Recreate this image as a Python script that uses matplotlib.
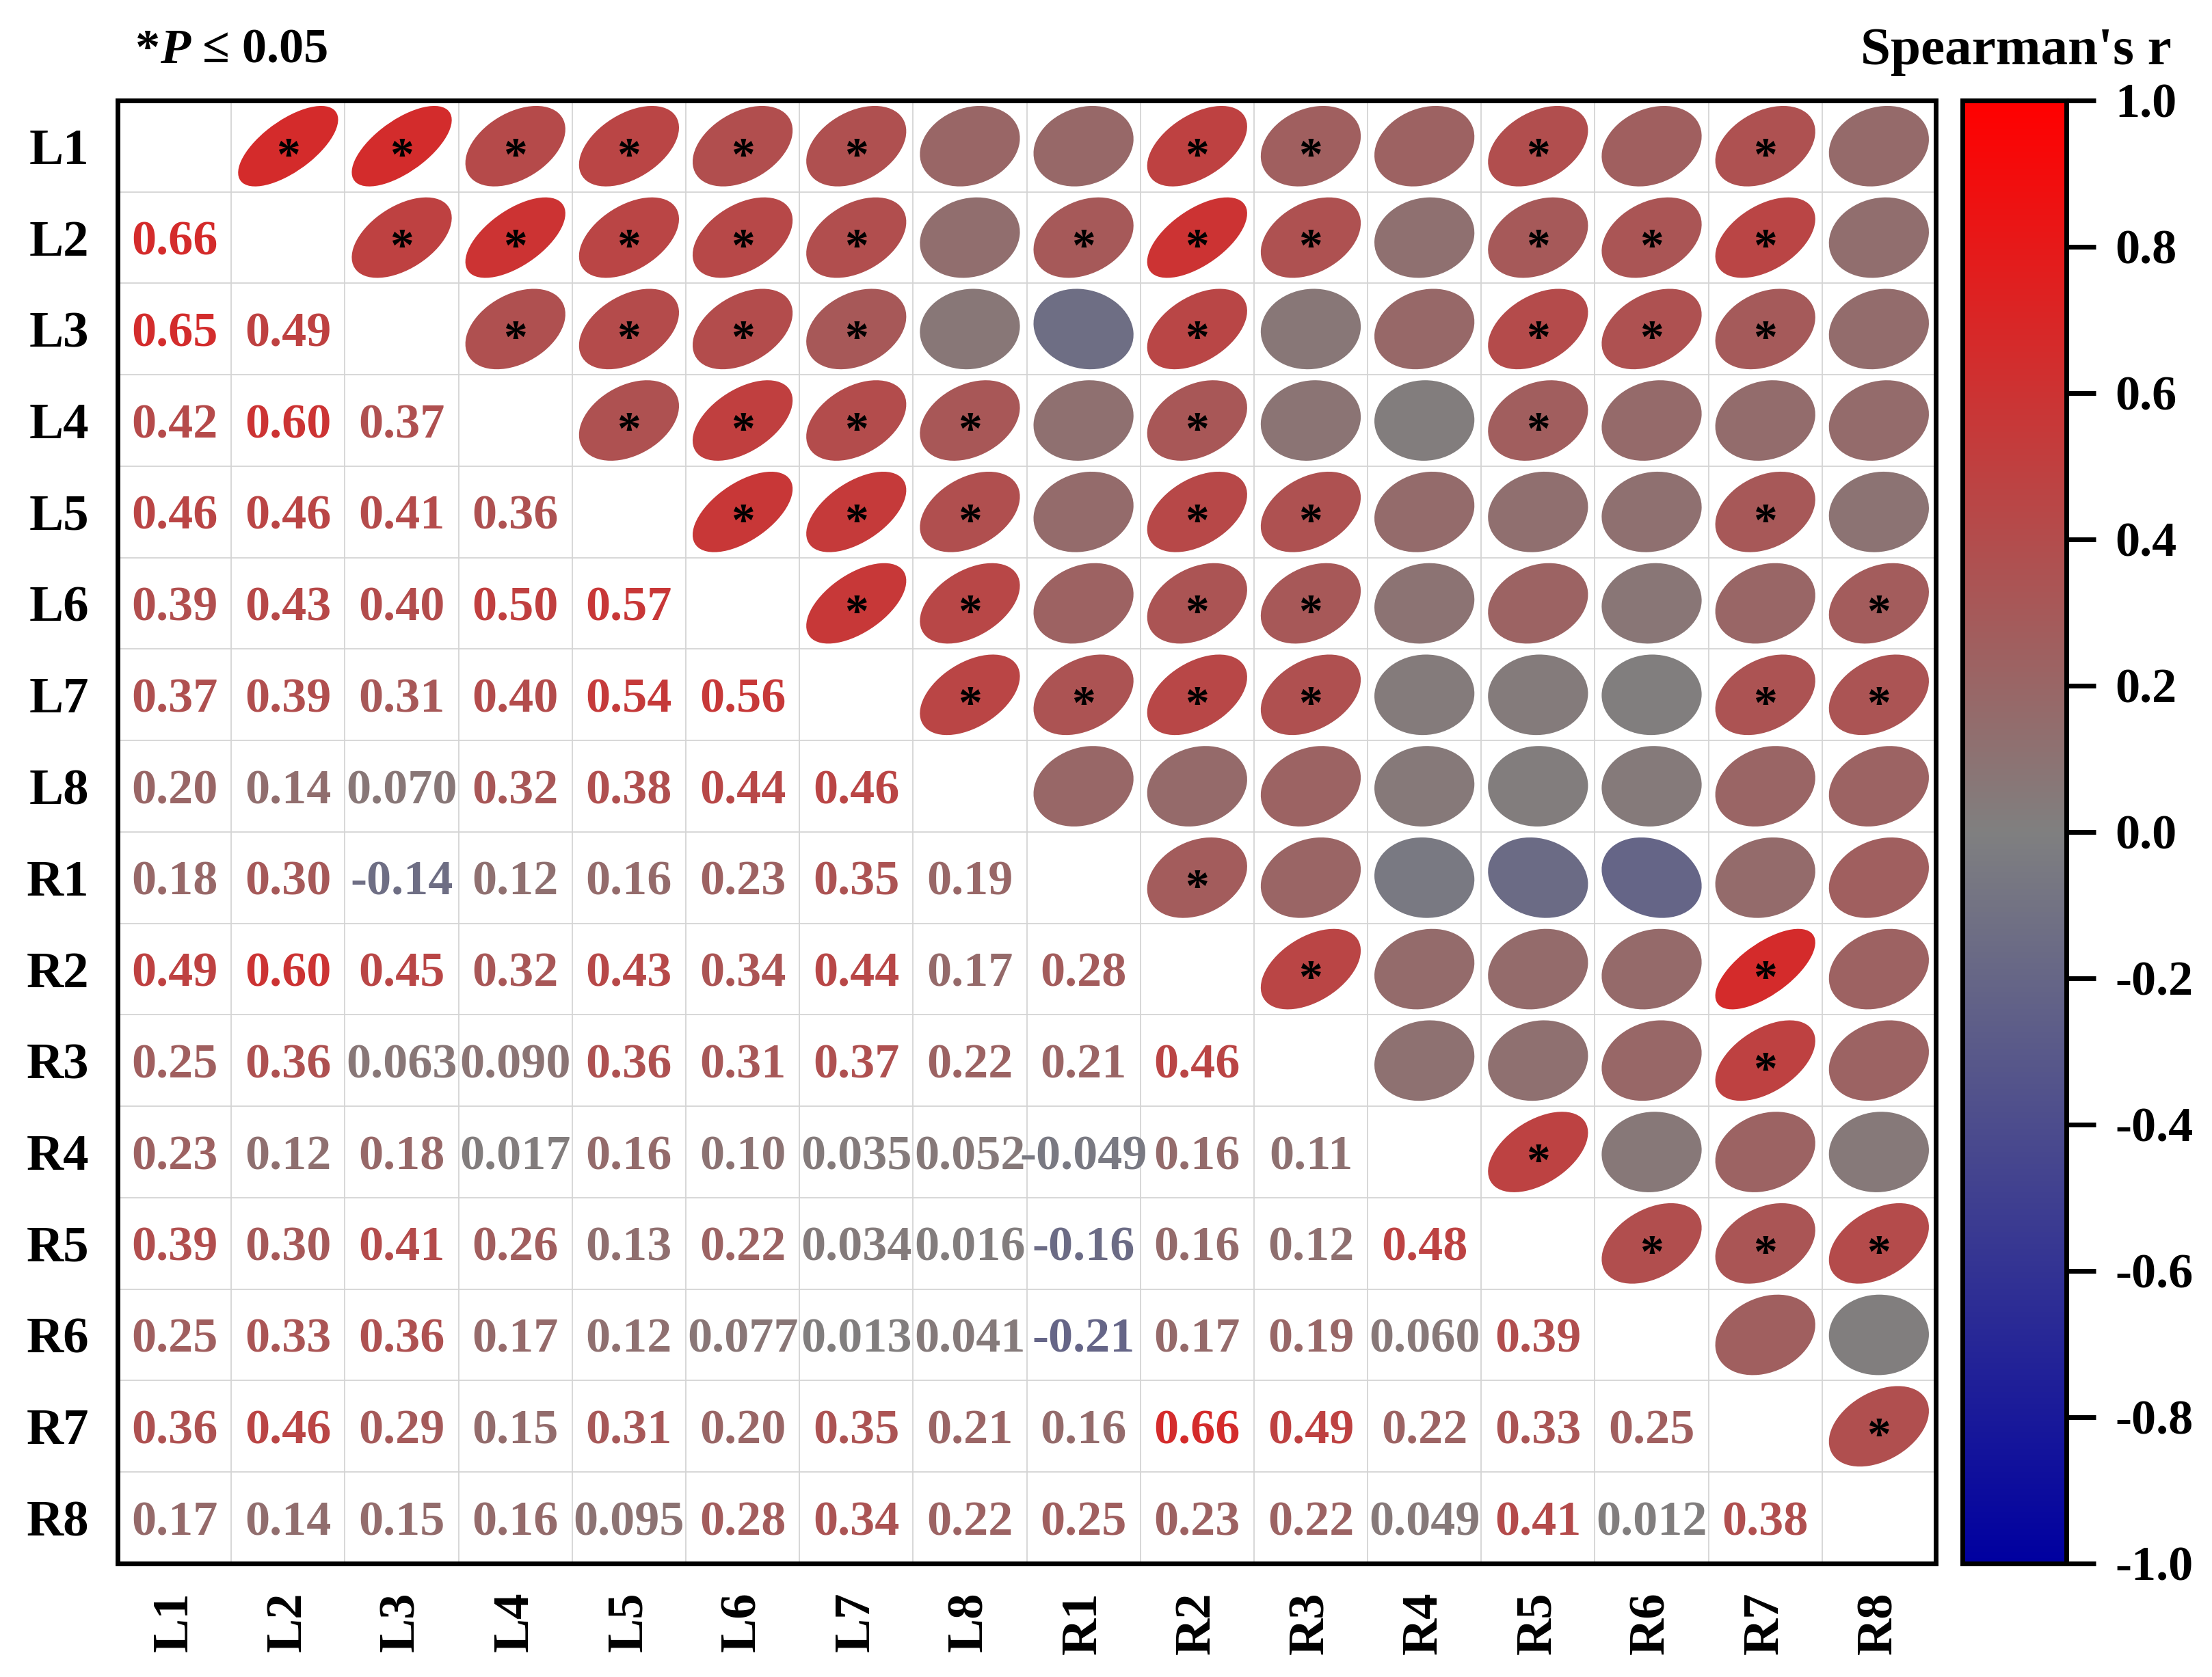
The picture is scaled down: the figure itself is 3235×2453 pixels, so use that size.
import matplotlib
matplotlib.use("Agg")
import matplotlib.pyplot as plt
import numpy as np
from matplotlib.colors import LinearSegmentedColormap, Normalize
from matplotlib.patches import Ellipse
from matplotlib.cm import ScalarMappable

plt.rcParams['font.family'] = ['Liberation Serif', 'DejaVu Serif']
plt.rcParams['font.weight'] = 'bold'
plt.rcParams['axes.unicode_minus'] = False

labels = ['L1', 'L2', 'L3', 'L4', 'L5', 'L6', 'L7', 'L8',
          'R1', 'R2', 'R3', 'R4', 'R5', 'R6', 'R7', 'R8']

# lower triangle, row i holds r with columns 0..i-1
lower = [
    [],
    [0.66],
    [0.65, 0.49],
    [0.42, 0.60, 0.37],
    [0.46, 0.46, 0.41, 0.36],
    [0.39, 0.43, 0.40, 0.50, 0.57],
    [0.37, 0.39, 0.31, 0.40, 0.54, 0.56],
    [0.20, 0.14, 0.070, 0.32, 0.38, 0.44, 0.46],
    [0.18, 0.30, -0.14, 0.12, 0.16, 0.23, 0.35, 0.19],
    [0.49, 0.60, 0.45, 0.32, 0.43, 0.34, 0.44, 0.17, 0.28],
    [0.25, 0.36, 0.063, 0.090, 0.36, 0.31, 0.37, 0.22, 0.21, 0.46],
    [0.23, 0.12, 0.18, 0.017, 0.16, 0.10, 0.035, 0.052, -0.049, 0.16, 0.11],
    [0.39, 0.30, 0.41, 0.26, 0.13, 0.22, 0.034, 0.016, -0.16, 0.16, 0.12, 0.48],
    [0.25, 0.33, 0.36, 0.17, 0.12, 0.077, 0.013, 0.041, -0.21, 0.17, 0.19, 0.060, 0.39],
    [0.36, 0.46, 0.29, 0.15, 0.31, 0.20, 0.35, 0.21, 0.16, 0.66, 0.49, 0.22, 0.33, 0.25],
    [0.17, 0.14, 0.15, 0.16, 0.095, 0.28, 0.34, 0.22, 0.25, 0.23, 0.22, 0.049, 0.41, 0.012, 0.38],
]

# significance (P <= 0.05) in the upper triangle, row i holds columns i+1..15
signif = [
    [1, 1, 1, 1, 1, 1, 0, 0, 1, 1, 0, 1, 0, 1, 0],
    [1, 1, 1, 1, 1, 0, 1, 1, 1, 0, 1, 1, 1, 0],
    [1, 1, 1, 1, 0, 0, 1, 0, 0, 1, 1, 1, 0],
    [1, 1, 1, 1, 0, 1, 0, 0, 1, 0, 0, 0],
    [1, 1, 1, 0, 1, 1, 0, 0, 0, 1, 0],
    [1, 1, 0, 1, 1, 0, 0, 0, 0, 1],
    [1, 1, 1, 1, 0, 0, 0, 1, 1],
    [0, 0, 0, 0, 0, 0, 0, 0],
    [1, 0, 0, 0, 0, 0, 0],
    [1, 0, 0, 0, 1, 0],
    [0, 0, 0, 1, 0],
    [1, 0, 0, 0],
    [1, 1, 1],
    [0, 0],
    [1],
]

cbar_ticks = [-1.0, -0.8, -0.6, -0.4, -0.2, 0.0, 0.2, 0.4, 0.6, 0.8, 1.0]

n = len(labels)
corr = np.eye(n)
for i in range(n):
    for j, v in enumerate(lower[i]):
        corr[i, j] = v
        corr[j, i] = v

cmap = LinearSegmentedColormap.from_list('bgr', ['#0000A0', '#808080', '#FF0000'])
norm = Normalize(-1, 1)

fig = plt.figure(figsize=(32.35, 24.53), dpi=100)
ax = fig.add_axes([0.0532, 0.0677, 0.8219, 0.8724])
ax.set_xlim(0, n)
ax.set_ylim(0, n)

# light grid
for k in range(1, n):
    ax.axvline(k, color='#d4d4d4', lw=1.3, zorder=0)
    ax.axhline(k, color='#d4d4d4', lw=1.3, zorder=0)

R = 0.44
for i in range(n):
    yc = n - i - 0.5
    # numbers in the lower triangle
    for j in range(i):
        v = corr[i, j]
        ax.text(j + 0.5, yc, f"{v:#.2g}", ha='center', va='center_baseline',
                fontsize=52, fontweight='bold', color=cmap(norm(v)), zorder=3)
    # ellipses in the upper triangle
    for j in range(i + 1, n):
        v = corr[i, j]
        a = 2 * R * np.sqrt(1 + abs(v))
        b = 2 * R * np.sqrt(1 - abs(v))
        ang = 45 if v >= 0 else -45
        ax.add_patch(Ellipse((j + 0.5, yc), a, b, angle=ang,
                             facecolor=cmap(norm(v)), edgecolor='none', zorder=2))
        if signif[i][j - i - 1]:
            ax.text(j + 0.5, yc - 0.26, '*', ha='center', va='baseline',
                    fontsize=50, fontweight='bold', color='black', zorder=4)

ax.set_xticks(np.arange(n) + 0.5)
ax.set_xticklabels(labels, rotation=90, fontsize=54, fontweight='bold')
ax.set_yticks(np.arange(n) + 0.5)
ax.set_yticklabels(labels[::-1], fontsize=54, fontweight='bold')
ax.tick_params(axis='both', length=0)
ax.tick_params(axis='x', pad=30)
ax.tick_params(axis='y', pad=30)
for s in ax.spines.values():
    s.set_linewidth(5)

# colorbar
cax = fig.add_axes([0.8872, 0.0677, 0.047, 0.8724])
sm = ScalarMappable(norm=norm, cmap=cmap)
cb = fig.colorbar(sm, cax=cax, ticks=cbar_ticks)
cb.outline.set_linewidth(5)
cb.ax.set_yticklabels([f"{t:.1f}" for t in cbar_ticks])
cb.ax.tick_params(length=31, width=5, pad=20, labelsize=52)
for t in cb.ax.get_yticklabels():
    t.set_fontweight('bold')

# header texts
t1 = fig.text(0.0612, 0.9625, '*', fontsize=52, fontweight='bold', va='baseline')
t2 = ax.annotate('P', xy=(1, 0), xycoords=t1, fontsize=52, fontweight='bold',
                 fontstyle='italic', va='bottom', ha='left', annotation_clip=False)
ax.annotate(' \u2264 0.05', xy=(1, 0), xycoords=t2, fontsize=52, fontweight='bold',
            va='bottom', ha='left', annotation_clip=False)
fig.text(0.9818, 0.9617, "Spearman's r", fontsize=57, fontweight='bold',
         ha='right', va='baseline')

fig.savefig('out.png', dpi=100)
